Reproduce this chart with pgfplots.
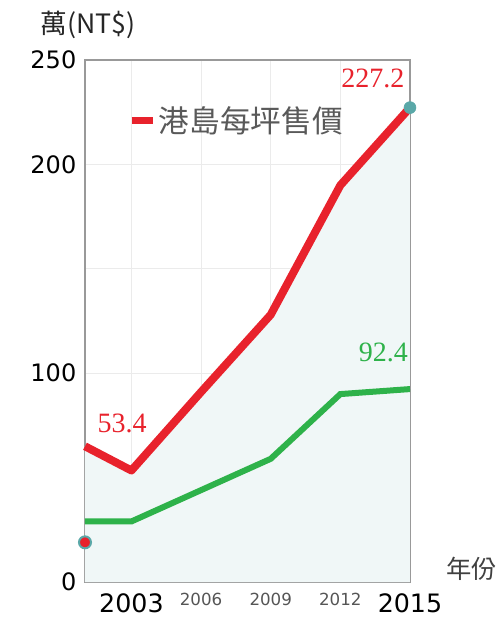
\documentclass[border=0pt]{standalone}
\usepackage{fontspec}
\setmainfont{DejaVu Sans}
\newfontfamily\cjk{Noto Sans CJK TC}
\newfontfamily\serif{Liberation Serif}
\usepackage{pgfplots}
\pgfplotsset{compat=1.18}

\definecolor{redline}{HTML}{E8222C}
\definecolor{greenline}{HTML}{2EB24A}
\definecolor{areafill}{HTML}{F0F7F7}
\definecolor{tealc}{HTML}{5AA8A8}
\definecolor{gridc}{HTML}{EBEBEB}
\definecolor{framec}{HTML}{999999}
\definecolor{smalltick}{HTML}{555555}

\newcommand{\bigtick}[1]{{\fontsize{19}{19}\selectfont #1}}
\newcommand{\smalltick}[1]{{\fontsize{12.5}{12.5}\selectfont\color{smalltick}#1}}
\newcommand{\ytk}[1]{{\fontsize{18}{18}\selectfont #1}}

\begin{document}
\begin{tikzpicture}
\useasboundingbox (-63.75pt,-33pt) rectangle (311.25pt,436.5pt);
\begin{axis}[
    at={(0,0)}, anchor=south west,
    scale only axis,
    width=243.75pt, height=391.5pt,
    xmin=2001, xmax=2015,
    ymin=0, ymax=250,
    clip=false,
    axis line style={framec, line width=1pt},
    major tick length=0pt,
    grid=major,
    grid style={gridc, line width=0.6pt},
    xtick={2003,2006,2009,2012,2015},
    xticklabels={\bigtick{2003},\smalltick{2006},\smalltick{2009},\smalltick{2012},\bigtick{2015}},
    xticklabel style={anchor=north, yshift=-5pt, text=black},
    ytick={0,50,100,150,200,250},
    yticklabels={\ytk{0},,\ytk{100},,\ytk{200},\ytk{250}},
    yticklabel style={anchor=east, xshift=-3pt, text=black},
    legend style={at={(rel axis cs:0.12,0.884)}, anchor=west, draw=none, fill=none,
        font=\cjk\fontsize{23}{23}\selectfont, text=black!65},
    legend cell align=left,
]
% area under the red line
\addplot[draw=none, fill=areafill, forget plot]
    coordinates {(2001,65) (2003,53.4) (2006,91) (2009,128) (2012,190) (2015,227.2)} \closedcycle;
% dot at the top right
\addplot[only marks, mark=*, mark size=4.5pt, mark options={fill=tealc, draw=tealc}, forget plot]
    coordinates {(2015,227.2)};
\addplot[color=greenline, line width=4.5pt, forget plot]
    coordinates {(2001,29) (2003,29) (2006,44) (2009,59) (2012,90) (2015,92.4)};
\addplot[color=redline, line width=6pt, line join=round,
    legend image code/.code={\draw[redline, line width=5pt] (0pt,0pt) -- (16pt,0pt);}]
    coordinates {(2001,65) (2003,53.4) (2006,91) (2009,128) (2012,190) (2015,227.2)};
\addlegendentry{港島每坪售價}
\addplot[only marks, mark=*, mark size=4.5pt, mark options={fill=redline, draw=tealc, line width=1.5pt}, forget plot]
    coordinates {(2001,19)};
% value labels
\node[text=redline, font=\serif\fontsize{21}{21}\selectfont] at (axis cs:2013.4,241) {227.2};
\node[text=redline, font=\serif\fontsize{21}{21}\selectfont] at (axis cs:2002.6,76) {53.4};
\node[text=greenline, font=\serif\fontsize{21}{21}\selectfont] at (axis cs:2013.85,110) {92.4};
% axis captions
\node[font=\cjk\fontsize{20}{20}\selectfont, text=black!85] at (rel axis cs:0.01,1.067) {萬(NT\$)};
\node[font=\cjk\fontsize{19}{19}\selectfont, text=black!75] at (rel axis cs:1.19,0.025) {年份};
\end{axis}
\end{tikzpicture}
\end{document}
